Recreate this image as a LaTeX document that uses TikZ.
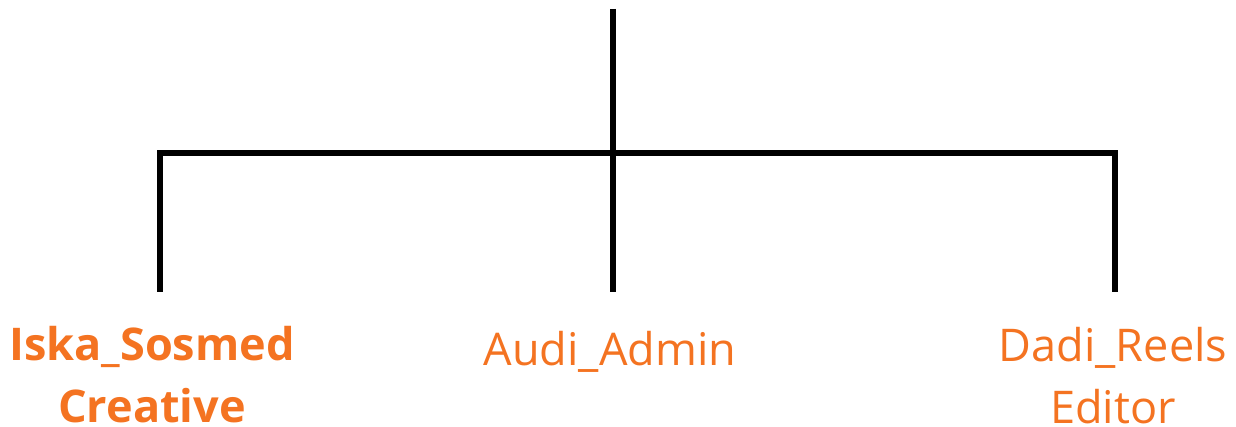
\documentclass[tikz,border=0pt]{standalone}
\usepackage{fontspec}
\setmainfont{Open Sans}
\definecolor{lbl}{HTML}{F47321}
\begin{document}
\begin{tikzpicture}[x=0.75pt,y=-0.75pt,
  conn/.style={line width=4pt,black},
  lab/.style={text=lbl,inner sep=0pt,align=center,anchor=base,font=\fontsize{33.8}{47}\selectfont}]
\useasboundingbox (0,0) rectangle (1236,427);
\coordinate (top) at (613,9);
\coordinate (hub) at (613,153);
\coordinate (lb) at (160,153);
\coordinate (rb) at (1115,153);
\coordinate (le) at (160,292);
\coordinate (me) at (613,292);
\coordinate (re) at (1115,292);
\draw[conn] (top) -- (me);
\draw[conn,line join=miter] (le) -- (lb) -- (rb) -- (re);
\node[lab,font=\fontsize{33.8}{47}\selectfont\bfseries] (iska) at (152,423) {Iska\_Sosmed\\Creative};
\node[lab] (audi) at (610,366) {Audi\_Admin};
\node[lab] (dadi) at (1113,424) {Dadi\_Reels\\Editor};
\end{tikzpicture}
\end{document}
